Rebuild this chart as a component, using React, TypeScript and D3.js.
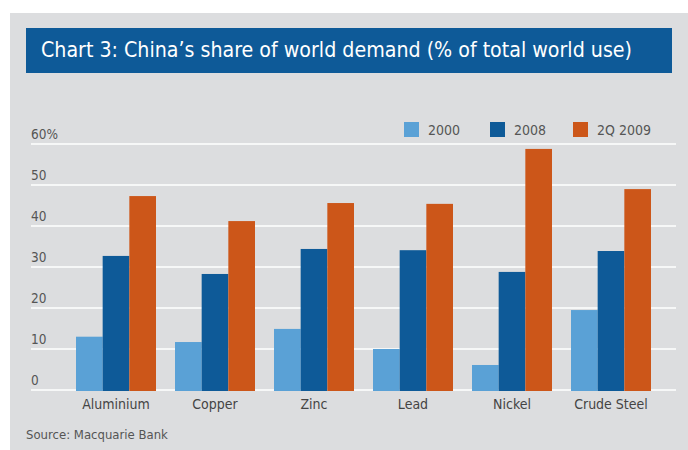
import React from "react";
import * as d3 from "d3";

const categories = ["Aluminium", "Copper", "Zinc", "Lead", "Nickel", "Crude Steel"];
const seriesNames = ["2000", "2008", "2Q 2009"];
const values2000 = [13, 11.7, 14.9, 10, 6.1, 19.5];
const values2008 = [32.7, 28.3, 34.4, 34.1, 28.8, 33.9];
const values2Q2009 = [47.3, 41.2, 45.6, 45.4, 58.8, 49];
const yTicks = [0, 10, 20, 30, 40, 50, 60];
const colors = ["#5AA1D6", "#0E5A98", "#CC5619"];

const FONT = "'DejaVu Sans Condensed', 'DejaVu Sans', sans-serif";

export default function App() {
  const W = 688;
  const H = 450;
  const seriesValues = [values2000, values2008, values2Q2009];

  const y = d3.scaleLinear().domain([0, 60]).range([390, 144]);
  const x = d3
    .scaleBand<string>()
    .domain(categories)
    .range([66.5, 660.5])
    .paddingInner(0.192)
    .paddingOuter(0.096);
  const xs = d3.scaleBand<string>().domain(seriesNames).range([0, x.bandwidth()]);

  const legendX = [404, 490, 573];

  return (
    <svg width={W} height={H} style={{ position: "absolute", left: 0, top: 0 }}>
      <rect x={10} y={13} width={W - 10} height={H - 13} fill="#DCDDDF" />
      <rect x={26} y={28} width={646} height={45} fill="#0E5A98" />
      <text
        x={41}
        y={57}
        fill="#fff"
        fontFamily={FONT}
        fontSize={21}
        textLength={591}
        lengthAdjust="spacingAndGlyphs"
      >
        Chart 3: China’s share of world demand (% of total world use)
      </text>

      {yTicks.map((t) => (
        <g key={t}>
          <line x1={31} x2={676} y1={y(t)} y2={y(t)} stroke="#fff" strokeWidth={1.5} />
          <text x={31} y={y(t) - 5} fill="#555" fontFamily={FONT} fontSize={13.5}>
            {t === 60 ? "60%" : String(t)}
          </text>
        </g>
      ))}

      {categories.map((c, i) => (
        <g key={c} transform={`translate(${x(c)},0)`}>
          {seriesNames.map((s, j) => (
            <rect
              key={s}
              x={xs(s)}
              y={y(seriesValues[j][i])}
              width={xs.bandwidth()}
              height={y(0) - y(seriesValues[j][i]) + 1}
              fill={colors[j]}
            />
          ))}
          <text
            x={x.bandwidth() / 2}
            y={409}
            textAnchor="middle"
            fill="#444"
            fontFamily={FONT}
            fontSize={14}
          >
            {c}
          </text>
        </g>
      ))}

      {seriesNames.map((s, j) => (
        <g key={s}>
          <rect x={legendX[j]} y={122} width={15} height={15} fill={colors[j]} />
          <text x={legendX[j] + 24} y={135} fill="#555" fontFamily={FONT} fontSize={14}>
            {s}
          </text>
        </g>
      ))}

      <text x={26} y={439} fill="#555" fontFamily={FONT} fontSize={13}>
        Source: Macquarie Bank
      </text>
    </svg>
  );
}
